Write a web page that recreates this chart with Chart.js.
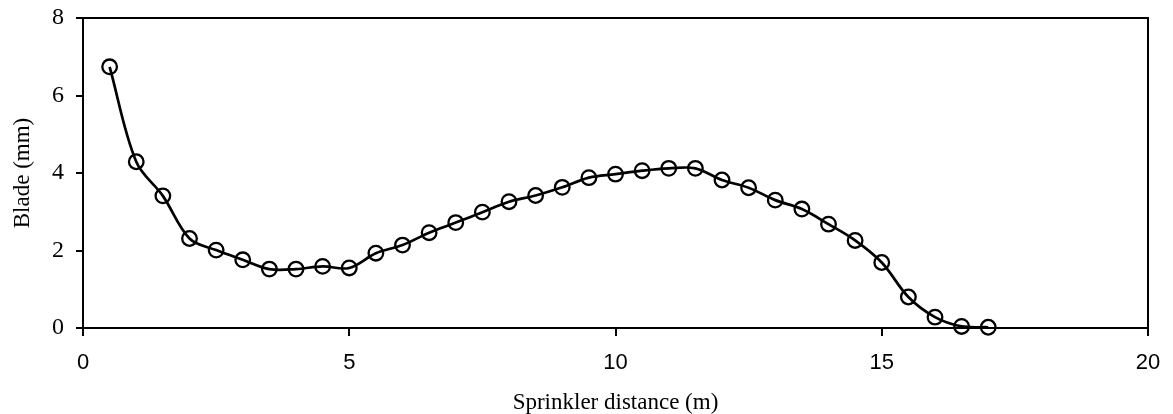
<!DOCTYPE html>
<html>
<head>
<meta charset="utf-8">
<script src="https://cdn.jsdelivr.net/npm/chart.js@4.4.0/dist/chart.umd.min.js"></script>
<style>
    html, body { margin: 0; padding: 0; background: #fff; }
    #wrap { width: 1173px; height: 414px; }
</style>
</head>
<body>
<div id="wrap"><canvas id="chart" width="1173" height="414"></canvas></div>
<script>
// Sprinkler distance (m) and measured blade (mm)
const distances = [0.5, 1, 1.5, 2, 2.5, 3, 3.5, 4, 4.5, 5, 5.5, 6, 6.5, 7, 7.5, 8, 8.5,
    9, 9.5, 10, 10.5, 11, 11.5, 12, 12.5, 13, 13.5, 14, 14.5, 15, 15.5, 16, 16.5, 17];
const blade = [6.74, 4.29, 3.41, 2.31, 2.01, 1.76, 1.52, 1.52, 1.59, 1.55, 1.93, 2.14, 2.46,
    2.72, 2.99, 3.26, 3.42, 3.63, 3.88, 3.97, 4.06, 4.12, 4.12, 3.82, 3.62, 3.30, 3.07,
    2.68, 2.26, 1.69, 0.80, 0.28, 0.04, 0.02];

const xTicks = [0, 5, 10, 15, 20];
const yTicks = [0, 2, 4, 6, 8];

const serif = "'Liberation Serif', 'Times New Roman', serif";
const sans = "'Liberation Sans', Arial, sans-serif";

// draws the top and right edges of the frame
const frameBox = {
    id: 'frameBox',
    afterDraw(chart) {
        const { ctx, chartArea } = chart;
        ctx.save();
        ctx.strokeStyle = '#000';
        ctx.lineWidth = 2;
        ctx.beginPath();
        ctx.moveTo(chartArea.left, chartArea.top);
        ctx.lineTo(chartArea.right, chartArea.top);
        ctx.lineTo(chartArea.right, chartArea.bottom);
        ctx.stroke();
        ctx.restore();
    }
};

const points = distances.map((d, i) => ({ x: d, y: blade[i] }));

new Chart(document.getElementById('chart').getContext('2d'), {
    type: 'scatter',
    data: {
        datasets: [{
            data: points,
            showLine: true,
            tension: 0.35,
            borderColor: '#000',
            borderWidth: 2.7,
            pointRadius: 7.3,
            pointBorderWidth: 2.3,
            pointBorderColor: '#000',
            pointBackgroundColor: 'rgba(0,0,0,0)',
            clip: false
        }]
    },
    options: {
        responsive: false,
        animation: false,
        layout: { padding: { top: 18, right: 25, bottom: 0, left: 0 } },
        plugins: { legend: { display: false }, tooltip: { enabled: false } },
        scales: {
            x: {
                type: 'linear',
                min: 0,
                max: 20,
                afterBuildTicks: s => { s.ticks = xTicks.map(v => ({ value: v })); },
                afterFit: s => {
                    s.height = 86;
                    s.paddingLeft = 0;
                    s.paddingRight = 0;
                },
                border: { display: true, color: '#000', width: 2 },
                grid: { drawOnChartArea: false, color: '#000', lineWidth: 2, tickLength: 8 },
                ticks: { color: '#000', padding: 14, font: { family: sans, size: 22 } },
                title: {
                    display: true,
                    text: 'Sprinkler distance (m)',
                    color: '#000',
                    padding: { top: 0, bottom: 0 },
                    font: { family: serif, size: 23, lineHeight: 1 }
                }
            },
            y: {
                type: 'linear',
                min: 0,
                max: 8,
                afterBuildTicks: s => { s.ticks = yTicks.map(v => ({ value: v })); },
                afterFit: s => {
                    s.width = 83;
                    s.paddingTop = 0;
                    s.paddingBottom = 0;
                },
                border: { display: true, color: '#000', width: 2 },
                grid: { drawOnChartArea: false, color: '#000', lineWidth: 2, tickLength: 7 },
                ticks: { color: '#000', padding: 12, font: { family: serif, size: 24 } },
                title: {
                    display: true,
                    text: 'Blade (mm)',
                    color: '#000',
                    padding: { top: 11, bottom: 0 },
                    font: { family: serif, size: 23, lineHeight: 1 }
                }
            }
        }
    },
    plugins: [frameBox]
});
</script>
</body>
</html>
